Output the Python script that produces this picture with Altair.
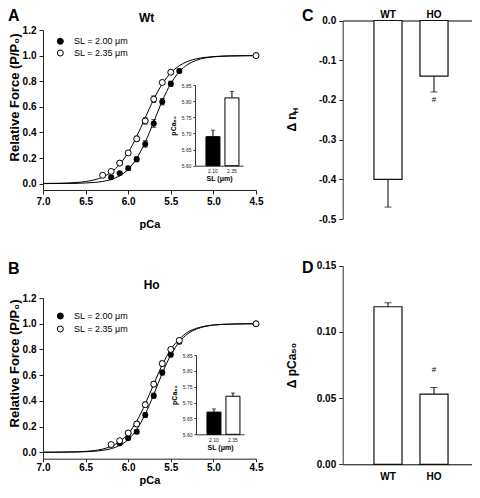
import altair as alt
import pandas as pd

FONT = "Liberation Sans"
W, H = 464, 480

# ---------------- data ----------------
x_ticks = [7.0, 6.5, 6.0, 5.5, 5.0, 4.5]
y_ticks = [0.0, 0.2, 0.4, 0.6, 0.8, 1.0, 1.2]
legend_labels = ["SL = 2.00 μm", "SL = 2.35 μm"]
panel_letters = ["A", "B", "C", "D"]
panel_titles = ["Wt", "Ho"]

# Panel A (Wt) measured points
wt200_pca = [6.2, 6.1, 6.0, 5.9, 5.8, 5.7, 5.6, 5.5, 5.4, 4.5]
wt200_force = [0.05, 0.08, 0.12, 0.19, 0.31, 0.47, 0.64, 0.78, 0.88, 1.00]
wt200_sem = [0.010, 0.010, 0.015, 0.020, 0.025, 0.030, 0.025, 0.020, 0.015, 0.0]
wt235_pca = [6.3, 6.2, 6.1, 6.0, 5.9, 5.8, 5.7, 5.6, 5.5, 4.5]
wt235_force = [0.065, 0.095, 0.16, 0.24, 0.35, 0.49, 0.66, 0.79, 0.87, 1.00]
wt235_sem = [0.010, 0.010, 0.015, 0.015, 0.020, 0.025, 0.025, 0.015, 0.015, 0.0]

# Panel B (Ho) measured points
ho200_pca = [6.1, 6.0, 5.9, 5.8, 5.7, 5.6, 5.5, 5.4, 4.5]
ho200_force = [0.07, 0.11, 0.16, 0.29, 0.44, 0.62, 0.76, 0.86, 1.00]
ho200_sem = [0.010, 0.010, 0.015, 0.020, 0.020, 0.020, 0.020, 0.015, 0.0]
ho235_pca = [6.2, 6.1, 6.0, 5.9, 5.8, 5.7, 5.6, 5.5, 5.4, 4.5]
ho235_force = [0.06, 0.09, 0.15, 0.22, 0.37, 0.53, 0.69, 0.80, 0.87, 1.00]
ho235_sem = [0.010, 0.010, 0.015, 0.020, 0.020, 0.020, 0.020, 0.015, 0.015, 0.0]

# fitted curves
curve_pca = [7.0, 6.8, 6.6, 6.5, 6.4, 6.3, 6.2, 6.1, 6.0, 5.9, 5.8, 5.7, 5.6,
             5.5, 5.4, 5.3, 5.2, 5.1, 5.0, 4.8, 4.5]
wt200_fit = [0.000, 0.001, 0.002, 0.005, 0.009, 0.017, 0.032, 0.061, 0.112, 0.198, 0.324,
             0.483, 0.646, 0.781, 0.874, 0.931, 0.963, 0.981, 0.990, 0.997, 1.000]
wt235_fit = [0.001, 0.003, 0.009, 0.016, 0.029, 0.050, 0.089, 0.150, 0.243, 0.369, 0.515,
             0.659, 0.779, 0.865, 0.921, 0.955, 0.975, 0.986, 0.992, 0.998, 1.000]
ho200_fit = [0.000, 0.001, 0.002, 0.004, 0.008, 0.015, 0.028, 0.053, 0.099, 0.177, 0.296,
             0.450, 0.615, 0.757, 0.859, 0.922, 0.958, 0.978, 0.989, 0.997, 1.000]
ho235_fit = [0.000, 0.001, 0.004, 0.007, 0.013, 0.025, 0.046, 0.083, 0.145, 0.242, 0.376,
             0.530, 0.680, 0.800, 0.880, 0.935, 0.964, 0.981, 0.990, 0.997, 1.000]

# insets: pCa50 vs SL
inset_sl = ["2.10", "2.35"]
inset_ticks = [5.60, 5.65, 5.70, 5.75, 5.80, 5.85]
wt_pca50 = [5.69, 5.81]
wt_pca50_sem = [0.02, 0.02]
ho_pca50 = [5.67, 5.72]
ho_pca50_sem = [0.01, 0.01]

# panels C and D
groups = ["WT", "HO"]
delta_nh = [-0.40, -0.14]
delta_nh_sem = [0.07, 0.04]
delta_pca50 = [0.119, 0.053]
delta_pca50_sem = [0.003, 0.005]
sig_marks = ["", "#"]
nh_ticks = [0.0, -0.1, -0.2, -0.3, -0.4, -0.5]
pca50_ticks = [0.00, 0.05, 0.10, 0.15]


# ---------------- helpers ----------------
def points_df(pca, force, sem):
    return pd.DataFrame({
        "pCa": pca, "force": force, "sem": sem,
        "lo": [f - s for f, s in zip(force, sem)],
        "hi": [f + s for f, s in zip(force, sem)],
    })


def main_panel(p200, p235, fit200, fit235, xr, yr, xaxis_y, yaxis_x, xpads, title_y):
    xs = alt.Scale(domain=[7.0, 4.5], range=xr, nice=False, zero=False)
    ys = alt.Scale(domain=[-0.05, 1.2], range=yr, nice=False, zero=False)
    xax = alt.Axis(orient="bottom", offset=xaxis_y - H, values=x_ticks, format=".1f",
                   title="pCa", titleFontSize=11, titleFontWeight="bold",
                   tickSize=xpads[0], labelPadding=xpads[1], titlePadding=xpads[2],
                   labelFontSize=10, labelFontWeight="bold", labelFlush=False,
                   labelOverlap=False, domainColor="#222", tickColor="#222")
    yax = alt.Axis(orient="left", offset=-yaxis_x, values=y_ticks, format=".1f",
                   title="Relative Force (P/P₀)", titleFontSize=13, titleFontWeight="bold",
                   titleX=-22, titleY=title_y, labelFontSize=10, labelFontWeight="bold",
                   labelPadding=3, tickSize=4, labelOverlap=False,
                   domainColor="#222", tickColor="#222")

    def enc(c, yf):
        return c.encode(x=alt.X("pCa:Q", scale=xs, axis=xax),
                        y=alt.Y(yf + ":Q", scale=ys, axis=yax))

    n = len(curve_pca)
    fit = pd.DataFrame({"pCa": curve_pca * 2, "force": fit200 + fit235,
                        "sl": ["2.00"] * n + ["2.35"] * n})
    layers = [enc(alt.Chart(fit).mark_line(color="black", strokeWidth=1, interpolate="monotone"),
                  "force").encode(detail="sl:N", order=alt.Order("pCa:Q", sort="descending"))]
    for df in (p200, p235):
        e = df[df["sem"] > 0]
        layers.append(enc(alt.Chart(e).mark_rule(color="black", strokeWidth=1), "lo").encode(y2="hi:Q"))
        layers.append(enc(alt.Chart(e).mark_tick(orient="horizontal", size=5, thickness=1, color="black"), "lo"))
        layers.append(enc(alt.Chart(e).mark_tick(orient="horizontal", size=5, thickness=1, color="black"), "hi"))
    layers.append(enc(alt.Chart(p200).mark_point(shape="circle", filled=True, color="black",
                                                 size=36, opacity=1), "force"))
    layers.append(enc(alt.Chart(p235).mark_point(shape="circle", filled=True, fill="white",
                                                 stroke="black", strokeWidth=1, size=36,
                                                 opacity=1), "force"))
    return alt.layer(*layers)


def legend(x_sym, x_txt, yr):
    df = pd.DataFrame({"label": legend_labels})
    y = alt.Y("label:N", scale=alt.Scale(type="point", domain=legend_labels, range=yr,
                                          padding=0), axis=None)
    pts = alt.Chart(df).mark_point(shape="circle", filled=True, stroke="black", strokeWidth=1,
                                   size=36, opacity=1).encode(
        x=alt.value(x_sym), y=y,
        fill=alt.condition(alt.datum.label == legend_labels[0], alt.value("black"), alt.value("white")))
    txt = alt.Chart(df).mark_text(align="left", baseline="middle", font=FONT, fontSize=9,
                                  color="black").encode(x=alt.value(x_txt), y=y, text="label:N")
    return alt.layer(pts, txt)


def inset(vals, sems, xr, yr):
    df = pd.DataFrame({"sl": inset_sl, "v": vals,
                       "hi": [v + s for v, s in zip(vals, sems)]})
    xs = alt.Scale(domain=inset_sl, range=xr, paddingInner=0.263, paddingOuter=0.395, align=0.73)
    ys = alt.Scale(domain=[5.60, 5.85], range=yr, nice=False, zero=False)
    xax = alt.Axis(orient="bottom", offset=yr[0] - H, title="SL (μm)", titleFontSize=7,
                   titleFontWeight="bold", titlePadding=1, labelFontSize=5, labelAngle=0,
                   ticks=False, labelPadding=3, domainColor="#333", labelColor="#222")
    yax = alt.Axis(orient="left", offset=-xr[0], values=inset_ticks, format=".2f",
                   title="pCa₅₀", titleFontSize=7, titleFontWeight="bold", titleX=-19,
                   labelFontSize=5, tickSize=2, labelPadding=2, labelOverlap=False,
                   domainColor="#333", tickColor="#333", labelColor="#222")
    X = alt.X("sl:N", scale=xs, axis=xax, sort=inset_sl)
    bars = alt.Chart(df).mark_bar(stroke="black", strokeWidth=1).encode(
        x=X, y=alt.Y("v:Q", scale=ys, axis=yax), y2=alt.datum(5.60),
        fill=alt.condition(alt.datum.sl == inset_sl[0], alt.value("black"), alt.value("white")))
    err = alt.Chart(df).mark_rule(color="black", strokeWidth=1).encode(
        x=X, y=alt.Y("v:Q", scale=ys, axis=yax), y2="hi:Q")
    cap = alt.Chart(df).mark_tick(orient="horizontal", size=4, thickness=1, color="black").encode(
        x=X, y=alt.Y("hi:Q", scale=ys, axis=yax))
    return alt.layer(err, bars, cap)


def bar_panel(vals, sems, sign, ticks, fmt, ydom, yr, xr, x_orient, x_axis_y, label_pad,
              title, sig_dy, sig_base):
    end = [v + sign * s for v, s in zip(vals, sems)]
    df = pd.DataFrame({"g": groups, "v": vals, "end": end, "sig": sig_marks})
    xs = alt.Scale(domain=groups, range=xr, paddingInner=0.39, paddingOuter=0.6, align=0.566)
    ys = alt.Scale(domain=ydom, range=yr, nice=False)
    off = -x_axis_y if x_orient == "top" else x_axis_y - H
    xax = alt.Axis(orient=x_orient, offset=off, title=None, ticks=False, labelPadding=label_pad,
                   labelFontSize=10, labelFontWeight="bold", labelAngle=0, domainColor="black")
    yax_kw = dict(orient="left", offset=-xr[0], values=ticks, format=fmt,
                  labelExpr="replace(datum.label, '−', '-')", labelFontSize=10,
                  labelFontWeight="bold", tickSize=4, labelPadding=3, labelOverlap=False,
                  domainColor="#333", tickColor="#333")
    if title:
        yax = alt.Axis(title=title, titleFontSize=12, titleFontWeight="bold", titleX=-44.7, **yax_kw)
    else:
        yax = alt.Axis(title=None, **yax_kw)
    X = alt.X("g:N", scale=xs, axis=xax, sort=groups)
    err = alt.Chart(df).mark_rule(color="black", strokeWidth=1).encode(
        x=X, y=alt.Y("v:Q", scale=ys, axis=yax), y2="end:Q")
    bars = alt.Chart(df).mark_bar(fill="white", stroke="#111", strokeWidth=1.2).encode(
        x=X, y=alt.Y("v:Q", scale=ys, axis=yax))
    cap = alt.Chart(df).mark_tick(orient="horizontal", size=7, thickness=1, color="black").encode(
        x=X, y=alt.Y("end:Q", scale=ys, axis=yax))
    sig = alt.Chart(df).transform_filter("datum.sig != ''").mark_text(
        font=FONT, fontSize=8, baseline=sig_base, dy=sig_dy, color="black").encode(
        x=X, y=alt.Y("end:Q", scale=ys, axis=yax), text="sig:N")
    return alt.layer(err, bars, cap, sig)


def label(text, x, y, size, weight="bold", align="left", baseline="top", angle=0):
    return alt.Chart(pd.DataFrame({"t": [text]})).mark_text(
        font=FONT, fontSize=size, fontWeight=weight, align=align, baseline=baseline,
        angle=angle, color="black").encode(x=alt.value(x), y=alt.value(y), text="t:N")


# ---------------- build ----------------
panelA = main_panel(points_df(wt200_pca, wt200_force, wt200_sem),
                    points_df(wt235_pca, wt235_force, wt235_sem),
                    wt200_fit, wt235_fit, [35, 248], [182, 22], 182, 35, (4, 2, 12), 89)
panelB = main_panel(points_df(ho200_pca, ho200_force, ho200_sem),
                    points_df(ho235_pca, ho235_force, ho235_sem),
                    ho200_fit, ho235_fit, [35, 248], [450.7, 290], 450.7, 35, (3, 1, 2), 355)
legendA = legend(52.3, 66, [33.3, 45])
legendB = legend(52.3, 66, [308, 321])
insetA = inset(wt_pca50, wt_pca50_sem, [187, 235], [157.7, 77])
insetB = inset(ho_pca50, ho_pca50_sem, [188, 236], [426.3, 347])
panelC = bar_panel(delta_nh, delta_nh_sem, -1, nh_ticks, ".1f", [-0.5, 0.0], [211, 12.5],
                   [334.7, 464], "top", 12.5, 1, None, 4, "top")
panelD = bar_panel(delta_pca50, delta_pca50_sem, 1, pca50_ticks, ".2f", [0.0, 0.15],
                   [456.3, 257.7], [334.7, 464], "bottom", 456.3, 7, "Δ pCa₅₀", -14, "bottom")

annots = [
    label(panel_letters[0], 0, 0, 16),
    label(panel_letters[1], 0, 253, 16),
    label(panel_letters[2], 294, 0, 16),
    label(panel_letters[3], 294, 252, 16),
    label(panel_titles[0], 138.7, 10.3, 12, align="center", baseline="middle"),
    label(panel_titles[1], 143.7, 277, 12, align="center", baseline="middle"),
    label("Δ n", 284, 123.6, 12, align="left", baseline="middle", angle=270),
    label("H", 287.5, 105.5, 8, align="left", baseline="middle", angle=270),
]

chart = alt.layer(
    panelA, legendA, insetA, panelB, legendB, insetB, panelC, panelD, *annots
).resolve_scale(
    x="independent", y="independent"
).properties(
    width=W, height=H, padding=0, autosize=alt.AutoSizeParams(type="none")
).configure_view(
    stroke=None
).configure_axis(
    labelFont=FONT, titleFont=FONT, grid=False, labelColor="black", titleColor="black"
)

chart.save("out.html", embed_options={"renderer": "svg", "actions": False})
